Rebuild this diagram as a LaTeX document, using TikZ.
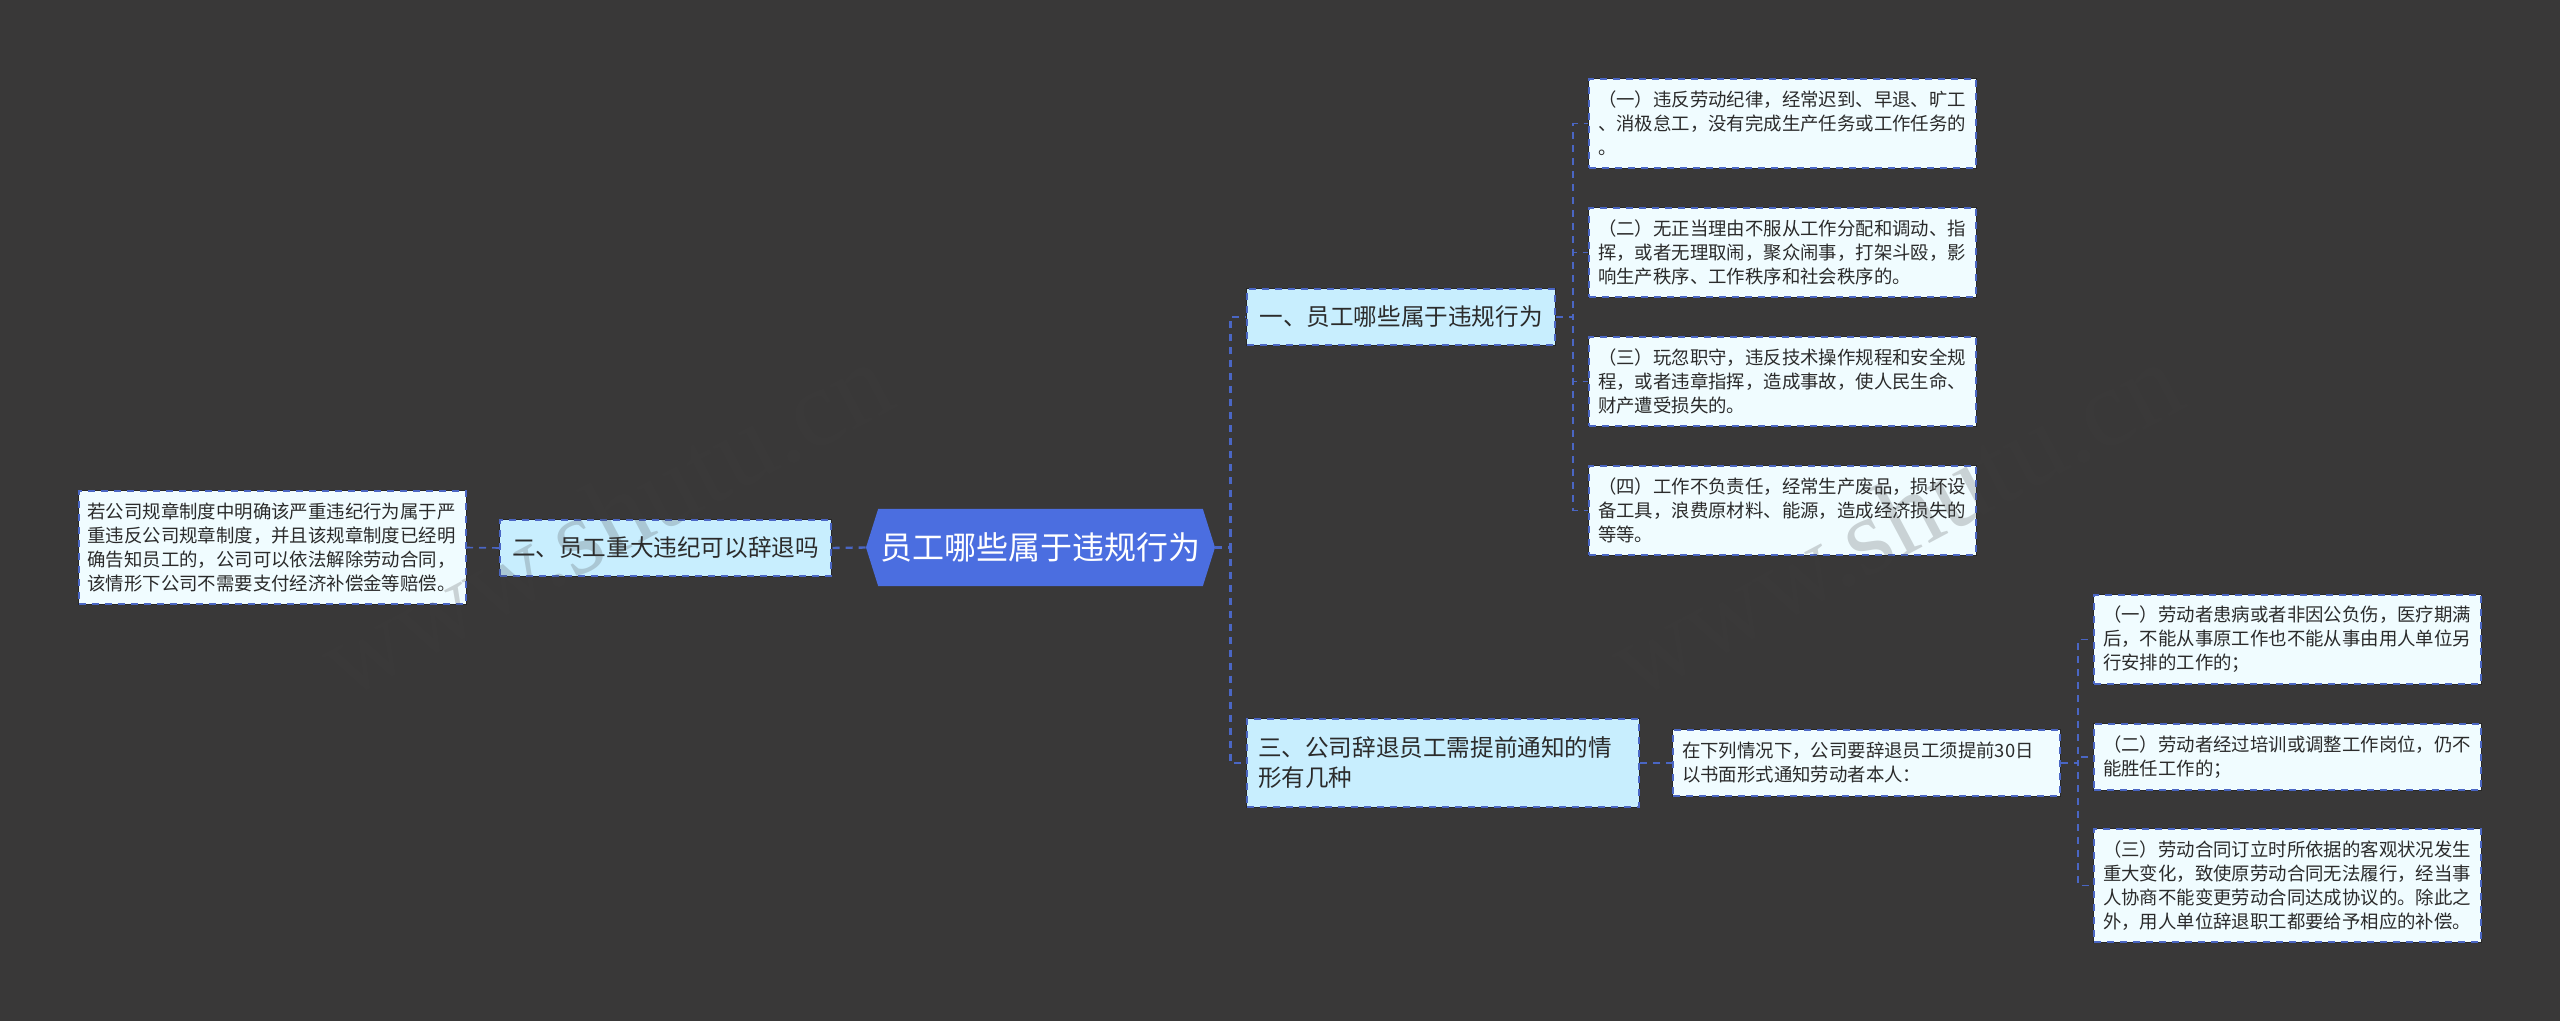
\documentclass[tikz,border=0pt]{standalone}
\usepackage{fontspec}
\setmainfont{Noto Sans CJK SC}
\newfontfamily\markfont{Liberation Serif}
\usetikzlibrary{shapes.symbols}

\definecolor{bgdark}{HTML}{393838}
\definecolor{edgeblue}{HTML}{4A66C4}
\definecolor{rootblue}{HTML}{4B6EE0}
\definecolor{branchfill}{HTML}{C8EEFE}
\definecolor{leaffill}{HTML}{F0FCFF}
\definecolor{inktext}{HTML}{2B2B2B}

\tikzset{
	rootnode/.style = {shape = signal,
		signal to = west and east,
		signal pointer angle = 145,
		fill = rootblue,
		text = white,
		inner sep = 0pt,
		minimum width = 174.5pt,
		minimum height = 38.5pt,
		font = \fontsize{16}{19}\selectfont},
	boxnode/.style = {preaction = {draw = black!85, solid, line width = 1pt},
		draw = edgeblue,
		dashed,
		dash pattern = on 3.5pt off 3pt,
		line width = 1pt,
		inner xsep = 0pt,
		inner ysep = 0pt,
		text = inktext},
	branchnode/.style = {boxnode,
		fill = branchfill,
		align = center,
		font = \fontsize{11.8}{15}\selectfont},
	leafnode/.style = {boxnode,
		fill = leaffill,
		align = left,
		minimum width = 193.5pt,
		text width = 184.5pt,
		font = \fontsize{9.2}{12}\selectfont},
	link/.style = {draw = edgeblue,
		dash pattern = on 3.5pt off 3pt,
		line width = 1.2pt},
	sublink/.style = {draw = edgeblue,
		dash pattern = on 3.5pt off 3pt,
		line width = 0.8pt},
	marknode/.style = {rotate = 28,
		inner sep = 0pt,
		text = black!75,
		text opacity = 0.22,
		font = \markfont\fontsize{55}{55}\selectfont}
}

\begin{document}
\begin{tikzpicture}[x = 0.5pt, y = -0.5pt]

	\fill[bgdark] (0,0) rectangle (2560,1021);
	\useasboundingbox (0,0) rectangle (2560,1021);

	\node[rootnode](root) at (1040.5,547.5){员工哪些属于违规行为};

	\node[branchnode,
		  minimum width = 154pt,
		  minimum height = 28pt](rule) at (1401,317){一、员工哪些属于违规行为};
	\node[branchnode,
		  minimum width = 165.5pt,
		  minimum height = 28pt](dismiss) at (665.5,548){二、员工重大违纪可以辞退吗};
	\node[branchnode,
		  align = left,
		  minimum width = 196pt,
		  minimum height = 44pt,
		  text width = 185pt](notice) at (1443,763){三、公司辞退员工需提前通知的情\\形有几种};

	\node[leafnode,
		  minimum height = 44.5pt](ruleA) at (1782.5,123.5){（一）违反劳动纪律，经常迟到、早退、旷工\\、消极怠工，没有完成生产任务或工作任务的\\。};
	\node[leafnode,
		  minimum height = 44.5pt](ruleB) at (1782.5,252.5){（二）无正当理由不服从工作分配和调动、指\\挥，或者无理取闹，聚众闹事，打架斗殴，影\\响生产秩序、工作秩序和社会秩序的。};
	\node[leafnode,
		  minimum height = 44.5pt](ruleC) at (1782.5,381.5){（三）玩忽职守，违反技术操作规程和安全规\\程，或者违章指挥，造成事故，使人民生命、\\财产遭受损失的。};
	\node[leafnode,
		  minimum height = 44.5pt](ruleD) at (1782.5,510.5){（四）工作不负责任，经常生产废品，损坏设\\备工具，浪费原材料、能源，造成经济损失的\\等等。};

	\node[leafnode,
		  minimum height = 56.5pt](dismissNote) at (272,547.5){若公司规章制度中明确该严重违纪行为属于严\\重违反公司规章制度，并且该规章制度已经明\\确告知员工的，公司可以依法解除劳动合同，\\该情形下公司不需要支付经济补偿金等赔偿。};

	\node[leafnode,
		  minimum height = 33pt](noticeNote) at (1866.5,763){在下列情况下，公司要辞退员工须提前30日\\以书面形式通知劳动者本人：};

	\node[leafnode,
		  minimum height = 44.5pt](noticeA) at (2287.5,639.5){（一）劳动者患病或者非因公负伤，医疗期满\\后，不能从事原工作也不能从事由用人单位另\\行安排的工作的；};
	\node[leafnode,
		  minimum height = 33pt](noticeB) at (2287.5,757){（二）劳动者经过培训或调整工作岗位，仍不\\能胜任工作的；};
	\node[leafnode,
		  minimum height = 56.5pt](noticeC) at (2287.5,885.5){（三）劳动合同订立时所依据的客观状况发生\\重大变化，致使原劳动合同无法履行，经当事\\人协商不能变更劳动合同达成协议的。除此之\\外，用人单位辞退职工都要给予相应的补偿。};

	\draw[link] (root.east) -- ++(15,0) |- (rule.west);
	\draw[link] (root.east) -- ++(15,0) |- (notice.west);
	\draw[link] (root.west) -- (dismiss.east);

	\draw[sublink] (rule.east) -- ++(17,0) |- (ruleA.west);
	\draw[sublink] (rule.east) -- ++(17,0) |- (ruleB.west);
	\draw[sublink] (rule.east) -- ++(17,0) |- (ruleC.west);
	\draw[sublink] (rule.east) -- ++(17,0) |- (ruleD.west);

	\draw[sublink] (dismiss.west) -- (dismissNote.east);

	\draw[sublink] (notice.east) -- (noticeNote.west);
	\draw[sublink] (noticeNote.east) -- ++(17,0) |- (noticeA.west);
	\draw[sublink] (noticeNote.east) -- ++(17,0) |- (noticeB.west);
	\draw[sublink] (noticeNote.east) -- ++(17,0) |- (noticeC.west);

	\node[marknode](markLeft) at (605,520){www.shutu.cn};
	\node[marknode](markRight) at (1895,520){www.shutu.cn};

\end{tikzpicture}
\end{document}
